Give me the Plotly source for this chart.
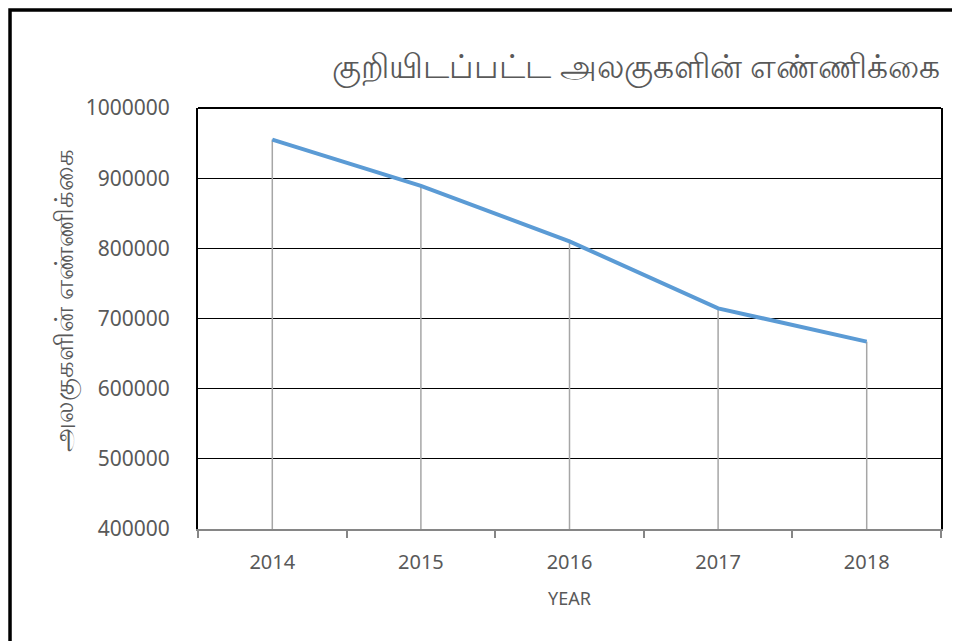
import plotly.graph_objects as go

years = ["2014", "2015", "2016", "2017", "2018"]
counts = [955000, 889000, 810000, 714500, 667000]
y_ticks = [400000, 500000, 600000, 700000, 800000, 900000, 1000000]

title_text = "குறியிடப்பட்ட அலகுகளின் எண்ணிக்கை"
y_title = "அலகுகளின் எண்ணிக்கை"
x_title = "YEAR"

grey = "#595959"
font_family = "Noto Sans, Open Sans, DejaVu Sans, sans-serif"

# drop lines from each point to the axis
dx, dy = [], []
for yr, v in zip(years, counts):
    dx += [yr, yr, None]
    dy += [y_ticks[0], v, None]

fig = go.Figure()
fig.add_trace(go.Scatter(x=dx, y=dy, mode="lines",
                         line=dict(color="#A6A6A6", width=1.5),
                         hoverinfo="skip", showlegend=False))
fig.add_trace(go.Scatter(x=years, y=counts, mode="lines",
                         line=dict(color="#5B9BD5", width=4),
                         showlegend=False))

fig.update_layout(
    width=960, height=641,
    margin=dict(l=190, r=27, t=100, b=120, autoexpand=False),
    paper_bgcolor="white", plot_bgcolor="white",
    font=dict(family=font_family, color=grey, size=20),
    xaxis=dict(type="category", range=[-0.5, 4.5], tickson="boundaries",
               ticks="outside", ticklen=7, tickcolor="#868686", tickwidth=2,
               showline=True, linecolor="#868686", linewidth=2,
               showgrid=False, zeroline=False, automargin=False,
               ticklabelstandoff=14,
               tickfont=dict(size=20, color=grey),
               title=dict(text=x_title, font=dict(size=18, color=grey), standoff=18)),
    yaxis=dict(range=[400000, 1000000], tickvals=y_ticks,
               ticktext=[str(v) for v in y_ticks],
               showgrid=True, gridcolor="black", gridwidth=1,
               showline=True, linecolor="black", linewidth=2, mirror=True,
               zeroline=False, ticks="", ticklabelstandoff=22, automargin=False,
               tickfont=dict(size=21, color=grey)),
    shapes=[
        dict(type="line", xref="paper", yref="paper", x0=0, x1=1, y0=1, y1=1,
             line=dict(color="black", width=2)),
        dict(type="rect", xref="paper", yref="paper",
             x0=-0.2530, x1=1.2, y0=-0.4, y1=1.2328,
             line=dict(color="black", width=3.5), layer="above"),
    ],
    annotations=[
        dict(text=title_text, xref="paper", yref="paper",
             x=0.1777, y=1.10, xanchor="left", yanchor="middle",
             showarrow=False, font=dict(size=33, color=grey, family=font_family)),
        dict(text=y_title, xref="paper", yref="paper", textangle=-90,
             x=-0.1817, y=0.5439, xanchor="center", yanchor="middle",
             showarrow=False, font=dict(size=26, color=grey, family=font_family)),
    ],
)

fig.write_html("out.html")
